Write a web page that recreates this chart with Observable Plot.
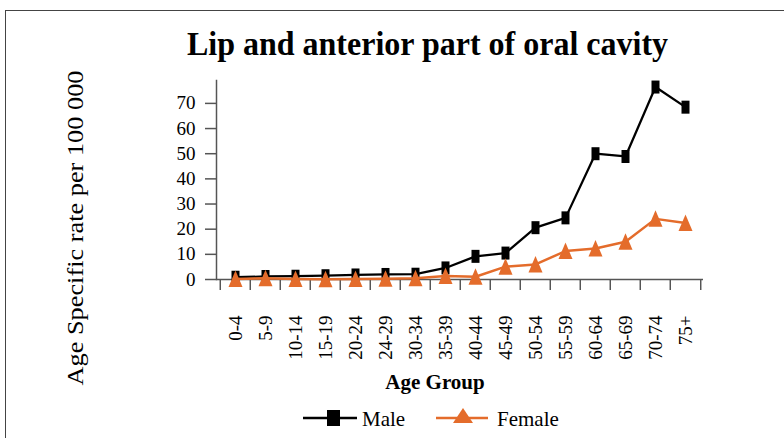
<!DOCTYPE html>
<html>
<head>
<meta charset="utf-8">
<script src="https://cdn.jsdelivr.net/npm/d3@7"></script>
<script src="https://cdn.jsdelivr.net/npm/@observablehq/plot@0.6"></script>
<style>
  html, body { margin: 0; padding: 0; background: #fff; }
  body { width: 784px; height: 438px; overflow: hidden; position: relative; font-family: "Liberation Serif", "Times New Roman", serif; color: #000; }
  #frame { position: absolute; left: 5px; top: 10px; width: 900px; height: 500px; border-left: 1.5px solid #444; border-top: 1.5px solid #444; }
  #chart { position: absolute; left: 0; top: 0; }
  .txt { position: absolute; white-space: nowrap; line-height: 1; }
  #title { left: 427.5px; top: 26.9px; font-size: 32px; font-weight: bold; transform: translateX(-50%) scaleY(1.05); transform-origin: 50% 0; }
  #ylabel { left: 75.2px; top: 227.5px; font-size: 23px; transform-origin: 0 0; transform: rotate(-90deg) scaleX(1.144) translate(-50%, -50%); }
  #xlabel { left: 435px; top: 372.4px; font-size: 21px; font-weight: bold; transform: translateX(-50%); }
  .legtxt { top: 409.4px; font-size: 21px; }
  .sw { position: absolute; }
</style>
</head>
<body>
<div id="frame"></div>
<div id="chart"></div>
<div id="title" class="txt">Lip and anterior part of oral cavity</div>
<div id="ylabel" class="txt">Age Specific rate per 100 000</div>
<div id="xlabel" class="txt">Age Group</div>
<svg class="sw" style="left:303px;top:408px" width="54" height="20">
  <line x1="0" x2="54" y1="10" y2="10" stroke="#000" stroke-width="2.5"/>
  <rect x="24" y="2" width="13" height="16" fill="#000"/>
</svg>
<div class="txt legtxt" style="left:362px">Male</div>
<svg class="sw" style="left:436px;top:406px" width="52" height="20">
  <line x1="0" x2="52" y1="12" y2="12" stroke="#E46C2B" stroke-width="2.5"/>
  <path d="M27,2 L37,17 L17,17 Z" fill="#E46C2B"/>
</svg>
<div class="txt legtxt" style="left:497px">Female</div>
<script>
const categories = ["0-4","5-9","10-14","15-19","20-24","24-29","30-34","35-39","40-44","45-49","50-54","55-59","60-64","65-69","70-74","75+"];
const male   = [0.9, 1.2, 1.3, 1.5, 1.8, 2.0, 2.1, 4.6, 9.2, 10.5, 20.6, 24.5, 50.0, 48.9, 76.5, 68.5];
const female = [0.2, 0.5, 0.2, 0.1, 0.2, 0.3, 0.5, 1.4, 1.1, 5.1, 6.0, 11.3, 12.3, 15.0, 24.1, 22.5];
const yTicks = [0, 10, 20, 30, 40, 50, 60, 70];
const yMax = 79.1;

const maleColor = "#000000";
const femaleColor = "#E46C2B";
const axisColor = "#555555";

const W = 784, H = 438, mL = 216, mR = 81, mT = 80, mB = 159;
const step = (W - mL - mR) / categories.length;
const pxPerUnit = (H - mT - mB) / yMax;
const tickDepth = 11 / pxPerUnit;

const maleRows = categories.map((age, i) => ({age, value: male[i]}));
const femaleRows = categories.map((age, i) => ({age, value: female[i]}));

const tallSquare = { draw(ctx) { ctx.rect(-4, -6.5, 8, 13); } };
const triangle = { draw(ctx) { ctx.moveTo(0, -8.5); ctx.lineTo(7, 8); ctx.lineTo(-7, 8); ctx.closePath(); } };

const chart = Plot.plot({
  width: W, height: H,
  marginLeft: mL, marginRight: mR, marginTop: mT, marginBottom: mB,
  x: {type: "point", domain: categories, padding: 0.5},
  y: {domain: [0, yMax]},
  style: {fontFamily: "'Liberation Serif', 'Times New Roman', serif", fontSize: "19px", color: "#000", background: "transparent"},
  marks: [
    Plot.frame({anchor: "left", stroke: axisColor, strokeWidth: 1.5}),
    Plot.ruleY([0], {stroke: axisColor, strokeWidth: 1.5}),
    Plot.axisY({ticks: yTicks, tickSize: 11, tickPadding: 10, stroke: axisColor, strokeWidth: 1.5, label: null, fontSize: 19}),
    Plot.axisX({tickSize: 0, tickPadding: 36, tickRotate: -90, label: null, fontSize: 19}),
    Plot.ruleX(categories, {x: d => d, y1: 0, y2: -tickDepth, dx: -step / 2, stroke: axisColor, strokeWidth: 1.5}),
    Plot.ruleX(categories.slice(-1), {x: d => d, y1: 0, y2: -tickDepth, dx: step / 2, stroke: axisColor, strokeWidth: 1.5}),
    Plot.line(maleRows, {x: "age", y: "value", stroke: maleColor, strokeWidth: 2.25}),
    Plot.dot(maleRows, {x: "age", y: "value", symbol: tallSquare, fill: maleColor, stroke: "none"}),
    Plot.line(femaleRows, {x: "age", y: "value", stroke: femaleColor, strokeWidth: 2.5}),
    Plot.dot(femaleRows, {x: "age", y: "value", symbol: triangle, fill: femaleColor, stroke: "none"})
  ]
});
document.getElementById("chart").appendChild(chart);
</script>
</body>
</html>
